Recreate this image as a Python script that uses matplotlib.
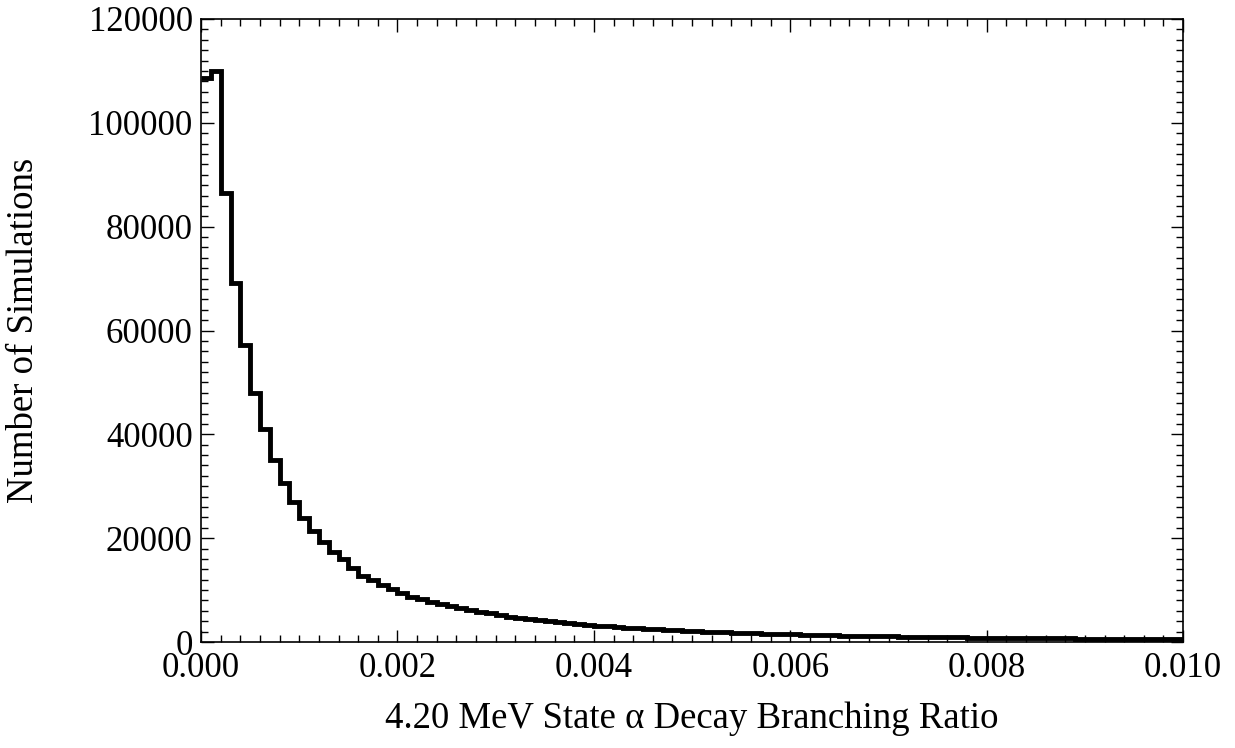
import numpy as np
import matplotlib
matplotlib.use("Agg")
import matplotlib.pyplot as plt
from matplotlib.ticker import MultipleLocator

# histogram of simulated branching ratios, bins of width 0.0001 from 0 to 0.01
bin_width = 0.0001
counts = [
    108600, 109900, 86400, 69200, 57300, 47900, 41000, 35100, 30600, 26900,
    23900, 21300, 19200, 17400, 15900, 14300, 12800, 11900, 11000, 10200,
    9400, 8750, 8200, 7700, 7300, 6900, 6500, 6100, 5800, 5500,
    5150, 4900, 4650, 4450, 4200, 4000, 3800, 3650, 3450, 3300,
    3150, 3000, 2900, 2780, 2650, 2550, 2450, 2350, 2250, 2150,
    2080, 2000, 1920, 1850, 1790, 1720, 1660, 1600, 1550, 1500,
    1450, 1400, 1360, 1320, 1280, 1240, 1200, 1170, 1130, 1100,
    1070, 1040, 1010, 980, 950, 930, 900, 880, 860, 840,
    820, 800, 780, 760, 740, 720, 710, 690, 680, 660,
    650, 630, 620, 610, 600, 590, 570, 560, 550, 540,
]
edges = np.arange(len(counts) + 1) * bin_width

xlabel = "4.20 MeV State \u03b1 Decay Branching Ratio"
ylabel = "Number of Simulations"

plt.rcParams['font.family'] = ['Liberation Serif', 'DejaVu Serif']

fig = plt.figure(figsize=(12.35, 7.48), dpi=100)
ax = fig.add_axes([0.1628, 0.1417, 0.7952, 0.8329])

ax.stairs(counts, edges, color='black', linewidth=3.5, baseline=None)

ax.set_xlim(0, 0.01)
ax.set_ylim(0, 120000)
ax.xaxis.set_major_locator(MultipleLocator(0.002))
ax.xaxis.set_minor_locator(MultipleLocator(0.0002))
ax.yaxis.set_major_locator(MultipleLocator(20000))
ax.yaxis.set_minor_locator(MultipleLocator(2000))
ax.xaxis.set_major_formatter(matplotlib.ticker.FormatStrFormatter('%.3f'))

ax.tick_params(which='both', direction='in', top=True, right=True,
               width=1.0, labelsize=25)
ax.tick_params(axis='x', pad=7)
ax.tick_params(axis='y', pad=6)
ax.tick_params(which='major', length=9)
ax.tick_params(which='minor', length=5)
for s in ax.spines.values():
    s.set_linewidth(1.2)

ax.set_xlabel(xlabel, fontsize=26.5, labelpad=12)
ax.set_ylabel(ylabel, fontsize=26.5, labelpad=34)

fig.savefig("out.png", dpi=100)
